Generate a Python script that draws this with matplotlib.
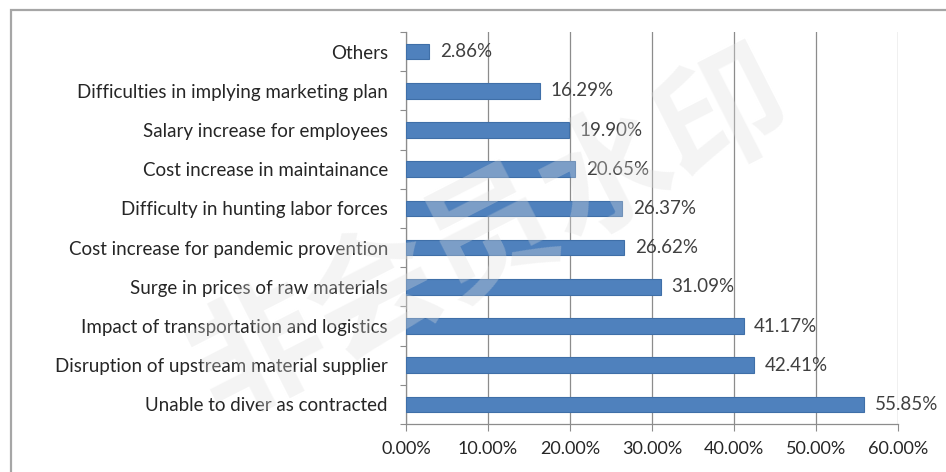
import matplotlib.pyplot as plt
import matplotlib.patches as patches
from matplotlib.ticker import FuncFormatter, MultipleLocator

categories = [
    'Unable to diver as contracted',
    'Disruption of upstream material supplier',
    'Impact of transportation and logistics',
    'Surge in prices of raw materials',
    'Cost increase for pandemic provention',
    'Difficulty in hunting labor forces',
    'Cost increase in maintainance',
    'Salary increase for employees',
    'Difficulties in implying marketing plan',
    'Others',
]
shares = [55.85, 42.41, 41.17, 31.09, 26.62, 26.37, 20.65, 19.90, 16.29, 2.86]

plt.rcParams['font.family'] = ['Lato', 'DejaVu Sans']

W, H = 946, 472
fig = plt.figure(figsize=(W / 100, H / 100), dpi=100)
ax = fig.add_axes([406 / W, 1 - 424 / H, 492 / W, 392 / H])

ypos = range(len(categories))
ax.barh(ypos, shares, height=0.4, color='#4f81bd', edgecolor='#3f6fa8',
        linewidth=0.8, zorder=3)
for y, v in zip(ypos, shares):
    ax.text(v + 1.3, y, '%.2f%%' % v, va='center', ha='left',
            fontsize=13.5, color='#404040', zorder=4)

ax.set_xlim(0, 60)
ax.set_ylim(-0.5, len(categories) - 0.5)
ax.xaxis.set_major_locator(MultipleLocator(10))
ax.xaxis.set_major_formatter(FuncFormatter(lambda x, p: '%.2f%%' % x))
ax.set_yticks(list(ypos))
ax.set_yticklabels(categories)
# category boundary ticks like a spreadsheet chart
ax.set_yticks([i - 0.5 for i in range(len(categories) + 1)], minor=True)
ax.tick_params(axis='y', which='major', length=0, pad=13, labelsize=13.5,
               labelcolor='#262626')
ax.tick_params(axis='y', which='minor', length=4, color='#8c8c8c', width=0.8)
ax.tick_params(axis='x', length=5, color='#8c8c8c', width=0.8, labelsize=13,
               labelcolor='#262626', pad=7)

ax.grid(axis='x', color='#8c8c8c', linewidth=0.9, zorder=0)
for s in ['top', 'right']:
    ax.spines[s].set_visible(False)
for s in ['left', 'bottom']:
    ax.spines[s].set_color('#8c8c8c')
    ax.spines[s].set_linewidth(0.9)

# outer chart frame
fig.patches.append(patches.Rectangle((11 / W, -0.1), 1.0, (H - 10) / H + 0.1,
                                     transform=fig.transFigure, fill=False,
                                     edgecolor='#a6a6a6', linewidth=1.6))

# watermark
fig.text(0.52, 0.5, '非会员水印', fontsize=94, rotation=27, weight='bold',
         family=['Noto Sans CJK SC', 'DejaVu Sans'], color='#dedede',
         alpha=0.32, ha='center', va='center', zorder=10)

fig.savefig('out.png', dpi=100)
